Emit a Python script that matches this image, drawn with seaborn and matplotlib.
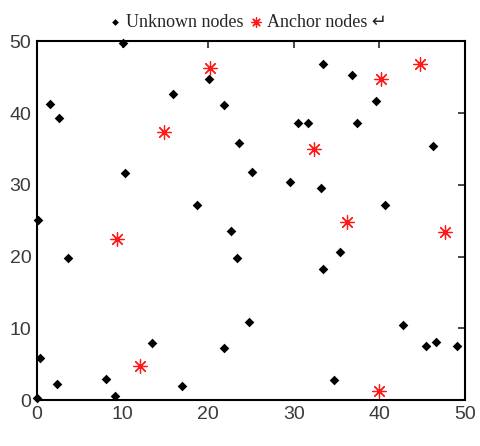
import pandas as pd
import matplotlib.pyplot as plt
import seaborn as sns

# unknown nodes (black diamonds)
unknown_x = [0.0, 0.4, 0.1, 3.6, 2.3, 8.1, 9.1, 13.4, 16.9, 21.8, 22.7, 23.4,
             1.5, 2.6, 10.1, 10.3, 15.9, 20.1, 21.8, 18.7, 23.6,
             33.4, 36.8, 39.6, 30.5, 31.6, 37.4, 46.3, 25.1, 29.6, 33.2, 40.7,
             35.4, 33.4, 24.8, 42.8, 45.4, 46.6, 49.0, 34.7]
unknown_y = [0.3, 5.9, 25.1, 19.8, 2.2, 3.0, 0.6, 7.9, 2.0, 7.3, 23.6, 19.8,
             41.3, 39.3, 49.8, 31.6, 42.7, 44.7, 41.1, 27.2, 35.8,
             46.9, 45.3, 41.7, 38.7, 38.7, 38.7, 35.4, 31.8, 30.4, 29.6, 27.2,
             20.7, 18.3, 10.9, 10.5, 7.5, 8.1, 7.5, 2.8]

# anchor nodes (red asterisks)
anchor_x = [14.8, 20.2, 40.2, 44.7, 32.4, 36.2, 47.7, 39.9, 9.4, 12.0]
anchor_y = [37.4, 46.3, 44.7, 46.9, 35.0, 24.8, 23.4, 1.2, 22.4, 4.8]

ticks = [0, 10, 20, 30, 40, 50]

df_u = pd.DataFrame({'x': unknown_x, 'y': unknown_y})
df_a = pd.DataFrame({'x': anchor_x, 'y': anchor_y})

sns.set_style('white')
plt.rcParams['font.family'] = ['Liberation Sans', 'DejaVu Sans']

fig = plt.figure(figsize=(4.8, 4.46), dpi=100)
ax = fig.add_axes([0.077, 0.103, 0.892, 0.804])

sns.scatterplot(data=df_u, x='x', y='y', marker='D', color='black', s=24,
                linewidth=0, label='Unknown nodes', ax=ax, clip_on=False, zorder=3)
sns.scatterplot(data=df_a, x='x', y='y', marker=(8, 2, 0), color='#ff1a1a', s=95,
                linewidth=0.9, label='Anchor nodes \u21b5', ax=ax, clip_on=False, zorder=3)

ax.set_xlim(0, 50)
ax.set_ylim(0, 50)
ax.set_xticks(ticks)
ax.set_yticks(ticks)
ax.set_xlabel('')
ax.set_ylabel('')
ax.tick_params(direction='in', length=5, width=1.2, top=True, right=True,
               labelsize=14, labelcolor='#3a3a3a', pad=4)
for sp in ax.spines.values():
    sp.set_visible(True)
    sp.set_color('black')
    sp.set_linewidth(1.5)

ax.legend(loc='lower center', bbox_to_anchor=(0.49, 1.0), ncol=2, frameon=False,
          handletextpad=0.1, columnspacing=0.2, markerscale=0.7, handlelength=1.0,
          borderaxespad=0.2,
          prop={'family': ['Liberation Serif', 'DejaVu Sans'], 'size': 13})

fig.savefig('out.png', dpi=100)
